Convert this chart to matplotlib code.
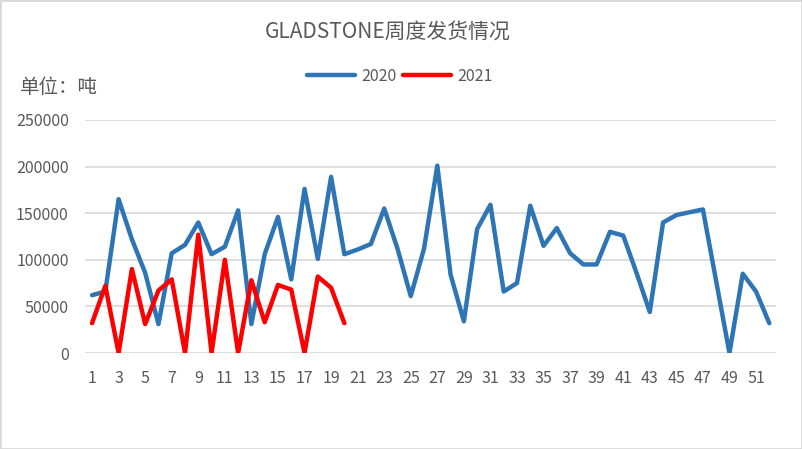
import matplotlib.pyplot as plt
from matplotlib.patches import Rectangle

plt.rcParams['font.family'] = ['Noto Sans CJK SC', 'DejaVu Sans']

#DATA
weeks2020 = list(range(1, 53))
ship2020 = [62000, 66000, 165000, 122000, 86000, 31000, 107000, 116000, 140000, 106000,
            114000, 153000, 31000, 106000, 146000, 79000, 176000, 101000, 189000, 106000,
            111000, 117000, 155000, 112000, 61000, 112000, 201000, 84000, 34000, 133000,
            159000, 66000, 75000, 158000, 115000, 134000, 107000, 95000, 95000, 130000,
            126000, 86000, 44000, 140000, 148000, 151000, 154000, 77000, 0, 85000,
            66000, 32000]
weeks2021 = list(range(1, 21))
ship2021 = [32000, 72000, 0, 90000, 31000, 67000, 79000, 0, 127000, 0,
            100000, 0, 78000, 33000, 73000, 68000, 0, 82000, 70000, 32000]
xtickLabels = list(range(1, 53, 2))
yticks = [0, 50000, 100000, 150000, 200000, 250000]

textColor = '#595959'
gridColor = '#D9D9D9'

#PLOT
fig = plt.figure(figsize=(8.02, 4.49), dpi=100)
fig.patches.append(Rectangle((0, 0), 1, 1, transform=fig.transFigure, fill=False,
                             edgecolor=gridColor, linewidth=2))
ax = fig.add_axes([0.1065, 0.2138, 0.861, 0.519])

line1, = ax.plot(weeks2020, ship2020, color='#2E75B6', linewidth=3.2, label='2020', solid_capstyle='round')
line2, = ax.plot(weeks2021, ship2021, color='#FF0000', linewidth=3.2, label='2021', solid_capstyle='round')

ax.set_xlim(0.5, 52.5)
ax.set_ylim(0, 250000)
ax.set_yticks(yticks)
ax.set_yticklabels([str(v) for v in yticks])
ax.set_xticks(xtickLabels)
ax.set_xticklabels([str(v) for v in xtickLabels])
ax.tick_params(axis='both', length=0, labelsize=11.5, colors=textColor)
ax.tick_params(axis='y', pad=12)
ax.tick_params(axis='x', pad=12)
ax.grid(axis='y', color=gridColor, linewidth=1.2)
ax.set_axisbelow(True)
for side in ['top', 'right', 'left', 'bottom']:
    ax.spines[side].set_visible(False)

fig.text(0.484, 0.93, 'GLADSTONE周度发货情况', ha='center', va='center', fontsize=15, color=textColor)
fig.text(0.025, 0.805, '单位：吨', ha='left', va='center', fontsize=14, color=textColor)
fig.legend(handles=[line1, line2], loc='center', bbox_to_anchor=(0.499, 0.83), ncol=2,
           frameon=False, fontsize=11.5, labelcolor=textColor, handlelength=3.0,
           handletextpad=0.4, columnspacing=0.4)

fig.savefig('out.png', dpi=100)
